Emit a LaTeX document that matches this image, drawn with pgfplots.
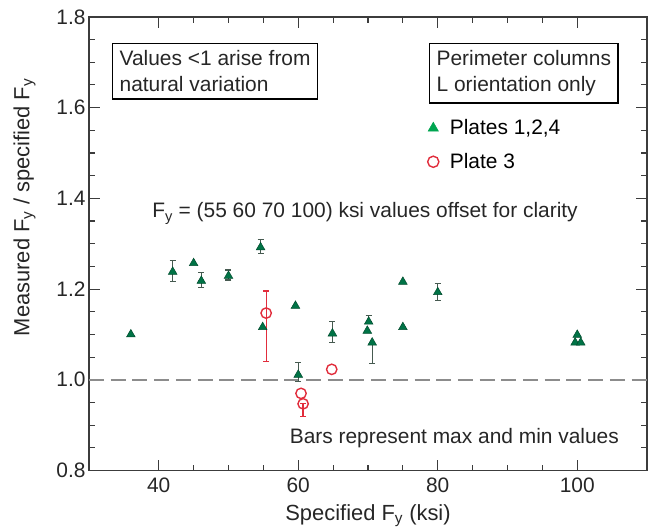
\documentclass[border=0pt]{standalone}
\usepackage{fontspec}
\setmainfont{Liberation Sans}
\usepackage{pgfplots}
\usepackage{pgfplotstable}
\pgfplotsset{compat=1.18}
\definecolor{tri}{RGB}{0,115,70}
\definecolor{triedge}{RGB}{0,75,45}
\definecolor{legtri}{RGB}{0,165,80}
\definecolor{errg}{RGB}{70,90,80}
\definecolor{redc}{RGB}{225,45,60}
\definecolor{axgray}{RGB}{60,60,60}
\definecolor{dashgray}{RGB}{140,140,140}

\pgfplotstableread{
x y
36.0 1.100
42.0 1.238
45.0 1.257
46.1 1.218
50.0 1.229
54.6 1.292
54.9 1.116
59.6 1.163
60.0 1.011
64.9 1.102
70.1 1.128
69.9 1.108
70.6 1.082
75.0 1.216
75.0 1.116
80.0 1.193
100.0 1.099
99.7 1.082
100.5 1.082
}\greenpts

\pgfplotstableread{
x y ep em
42.0 1.238 0.025 0.022
46.1 1.218 0.019 0.015
50.0 1.229 0.013 0.009
54.6 1.292 0.018 0.013
60.0 1.011 0.027 0.015
64.9 1.102 0.026 0.020
70.1 1.128 0.013 0.0
70.6 1.082 0.0 0.046
80.0 1.193 0.020 0.019
}\greenerr

\pgfplotstableread{
x y
55.4 1.147
60.4 0.970
60.7 0.947
64.8 1.023
}\redpts

\pgfplotstableread{
x y ep em
55.4 1.147 0.049 0.106
60.7 0.947 0.0 0.028
}\rederr

\begin{document}
\begin{tikzpicture}
\useasboundingbox (-89bp,-60.5bp) rectangle (561bp,470.5bp);
\begin{axis}[
  scale only axis, width=558bp, height=453.6bp,
  xmin=30, xmax=110, ymin=0.8, ymax=1.8,
  xtick={40,60,80,100}, minor x tick num=3,
  ytick={0.8,1.0,1.2,1.4,1.6,1.8}, minor y tick num=3,
  yticklabel style={/pgf/number format/.cd, fixed, fixed zerofill, precision=1},
  /pgf/number format/assume math mode=true,
  tick align=inside,
  major tick length=11bp, minor tick length=6bp,
  axis line style={axgray, line width=1.6bp},
  tick style={axgray, line width=1.1bp},
  tick label style={font=\fontsize{21}{24}\selectfont, text=black!85},
  xticklabel style={yshift=-4bp},
  label style={font=\fontsize{22}{26}\selectfont, text=black!85},
  xlabel={Specified F\textsubscript{y} (ksi)},
  xlabel style={yshift=-5bp},
  ylabel={Measured F\textsubscript{y} / specified F\textsubscript{y}},
  ylabel style={at={(ticklabel cs:0.58,14bp)}},
  clip=false,
  legend cell align=left,
  legend style={at={(rel axis cs:0.6066,0.778)}, anchor=north west, draw=none, fill=none,
    font=\fontsize{21}{25}\selectfont, row sep=13bp, inner sep=0pt,
    /tikz/every odd column/.append style={column sep=9bp}},
]
\addplot[dashgray, dashed, line width=1.8bp, dash pattern=on 15bp off 6.7bp, forget plot]
  coordinates {(30,1.0) (110,1.0)};

\addplot[draw=none, mark=none, forget plot,
  error bars/.cd, y dir=both, y explicit,
  error bar style={draw=errg, line width=1.1bp},
  error mark options={rotate=90, mark size=3bp, draw=errg, line width=1.1bp}]
  table[x=x, y=y, y error plus=ep, y error minus=em]{\greenerr};
\addplot[draw=none, mark=none, forget plot,
  error bars/.cd, y dir=both, y explicit,
  error bar style={draw=redc, line width=1.3bp},
  error mark options={rotate=90, mark size=3bp, draw=redc, line width=1.3bp}]
  table[x=x, y=y, y error plus=ep, y error minus=em]{\rederr};

\addplot[only marks, mark=triangle*, mark size=5bp, forget plot,
  mark options={fill=tri, draw=triedge, line width=0.5bp}]
  table[x=x, y=y]{\greenpts};
\addplot[only marks, mark=o, mark size=5.2bp, forget plot,
  mark options={draw=redc, line width=1.4bp, fill=white, fill opacity=0.6}]
  table[x=x, y=y]{\redpts};

\addlegendimage{legend image code/.code={\draw[mark=triangle*, mark size=6bp, mark options={fill=legtri, draw=legtri}] plot coordinates {(0.3cm,0cm)};}}
\addlegendentry{Plates 1,2,4}
\addlegendimage{legend image code/.code={\draw[mark=o, mark size=5.6bp, mark options={draw=redc, line width=1.4bp}] plot coordinates {(0.3cm,0cm)};}}
\addlegendentry{Plate 3}

\node[draw=black, line width=1.3bp, anchor=north west, align=left, inner sep=7bp,
  font=\fontsize{21}{26}\selectfont, text=black!85] at (axis cs:33.3,1.7425)
  {Values <1 arise from\\natural variation};
\node[draw=black, line width=1.3bp, anchor=north east, align=left, inner sep=7bp,
  font=\fontsize{21}{26}\selectfont, text=black!85] at (axis cs:105.94,1.7425)
  {Perimeter columns\\L orientation only};
\node[anchor=base, inner sep=0pt, font=\fontsize{21}{26}\selectfont, text=black!85] at (axis cs:69.57,1.3567)
  {F\textsubscript{y} = (55 60 70 100) ksi values offset for clarity};
\node[anchor=base east, inner sep=0pt, font=\fontsize{21}{26}\selectfont, text=black!85] at (axis cs:106.0,0.8606)
  {Bars represent max and min values};
\end{axis}
\end{tikzpicture}
\end{document}
